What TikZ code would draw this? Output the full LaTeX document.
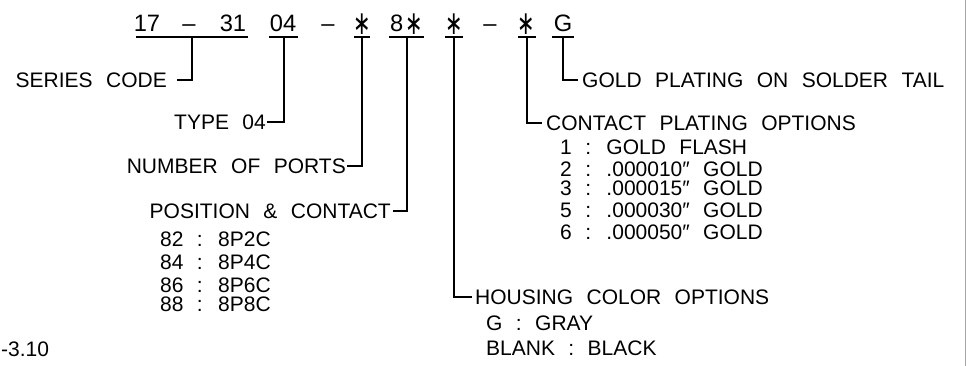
\documentclass[tikz,border=0pt]{standalone}
\usepackage{fontspec}
\setmainfont[WordSpace=2.3]{Liberation Sans}
\newfontfamily\symfont{DejaVu Sans}
\begin{document}
\begin{tikzpicture}[x=1pt,y=-1pt,
  lbl/.style={inner sep=0pt, font=\fontsize{21}{21}\selectfont, text height=15pt, text depth=0pt},
  toptxt/.style={inner sep=0pt, font=\fontsize{23.7}{24}\selectfont, text height=17pt, text depth=0pt},
  star/.style={inner sep=0pt, font=\symfont\fontsize{22}{22}\selectfont},
  wire/.style={line width=1.4pt, line cap=rect},
  leader/.style={line width=1.4pt}]
\useasboundingbox (0,0) rectangle (966,366);
\draw[gray!70, line width=1pt] (965,0) -- (965,366);

% top code row
\node[toptxt] (t17) at (147,23.5) {17};
\node[toptxt] (td1) at (189,23.5) {--};
\node[toptxt] (t31) at (233,23.5) {31};
\node[toptxt] (t04) at (283,23.5) {04};
\node[toptxt] (td2) at (328,23.5) {--};
\node[star] (ts1) at (362,24) {\scalebox{0.95}[1.5]{∗}};
\node[toptxt, anchor=west] (t8) at (390,23.5) {8};
\node[star] (ts2) at (414,24) {\scalebox{0.95}[1.5]{∗}};
\node[star] (ts3) at (454,24) {\scalebox{0.95}[1.5]{∗}};
\node[toptxt] (td3) at (490,23.5) {--};
\node[star] (ts4) at (526,24) {\scalebox{0.95}[1.5]{∗}};
\node[toptxt] (tG) at (563,23.5) {G};

% underlines and their tap points
\coordinate (u1) at (192,37);
\coordinate (u2) at (284,37);
\coordinate (u3) at (362,37);
\coordinate (u4) at (407,37);
\coordinate (u5) at (454,37);
\coordinate (u6) at (527,37);
\coordinate (u7) at (563,37);
\draw[wire] (137,37) -- (247,37);
\draw[wire] (270,37) -- (297,37);
\draw[wire] (355,37) -- (369,37);
\draw[wire] (390,37) -- (423,37);
\draw[wire] (446,37) -- (462,37);
\draw[wire] (519,37) -- (535,37);
\draw[wire] (553,37) -- (573,37);

% hook ends
\coordinate (h1) at (177,80);
\coordinate (h2) at (267,122);
\coordinate (h3) at (347,166);
\coordinate (h4) at (393,211);
\coordinate (h5) at (472,297);
\coordinate (h6) at (542,123);
\coordinate (h7) at (578,80);

% labels
\node[lbl, anchor=east] (series) at ([xshift=-10pt]h1) {SERIES CODE};
\node[lbl, anchor=east] (type) at ([xshift=-1pt]h2) {TYPE 04};
\node[lbl, anchor=east] (ports) at ([xshift=-1pt]h3) {NUMBER OF PORTS};
\node[lbl, anchor=east] (pos) at ([xshift=-2pt]h4) {POSITION \& CONTACT};
\node[lbl, anchor=west] (p82) at (160,239) {82 : 8P2C};
\node[lbl, anchor=west] (p84) at (160,262) {84 : 8P4C};
\node[lbl, anchor=west] (p86) at (160,285) {86 : 8P6C};
\node[lbl, anchor=west] (p88) at (160,304) {88 : 8P8C};
\node[lbl, anchor=west] (rev) at (1,349) {-3.10};

\node[lbl, anchor=west] (house) at ([xshift=3pt]h5) {HOUSING COLOR OPTIONS};
\node[lbl, anchor=west] (hg) at (486,323) {G : GRAY};
\node[lbl, anchor=west] (hb) at (486,348) {BLANK : BLACK};

\node[lbl, anchor=west] (plate) at ([xshift=4pt]h6) {CONTACT PLATING OPTIONS};
\node[lbl, anchor=west] (c1) at (560,147) {1 : GOLD FLASH};
\node[lbl, anchor=west] (c2) at (560,169) {2 : .000010″ GOLD};
\node[lbl, anchor=west] (c3) at (560,188) {3 : .000015″ GOLD};
\node[lbl, anchor=west] (c5) at (560,210) {5 : .000030″ GOLD};
\node[lbl, anchor=west] (c6) at (560,232) {6 : .000050″ GOLD};

\node[lbl, anchor=west] (gold) at ([xshift=4pt]h7) {GOLD PLATING ON SOLDER TAIL};

% leaders
\draw[leader] (u1) |- (h1);
\draw[leader] (u2) |- (h2);
\draw[leader] (u3) |- (h3);
\draw[leader] (u4) |- (h4);
\draw[leader] (u5) |- (h5);
\draw[leader] (u6) |- (h6);
\draw[leader] (u7) |- (h7);
\end{tikzpicture}
\end{document}
